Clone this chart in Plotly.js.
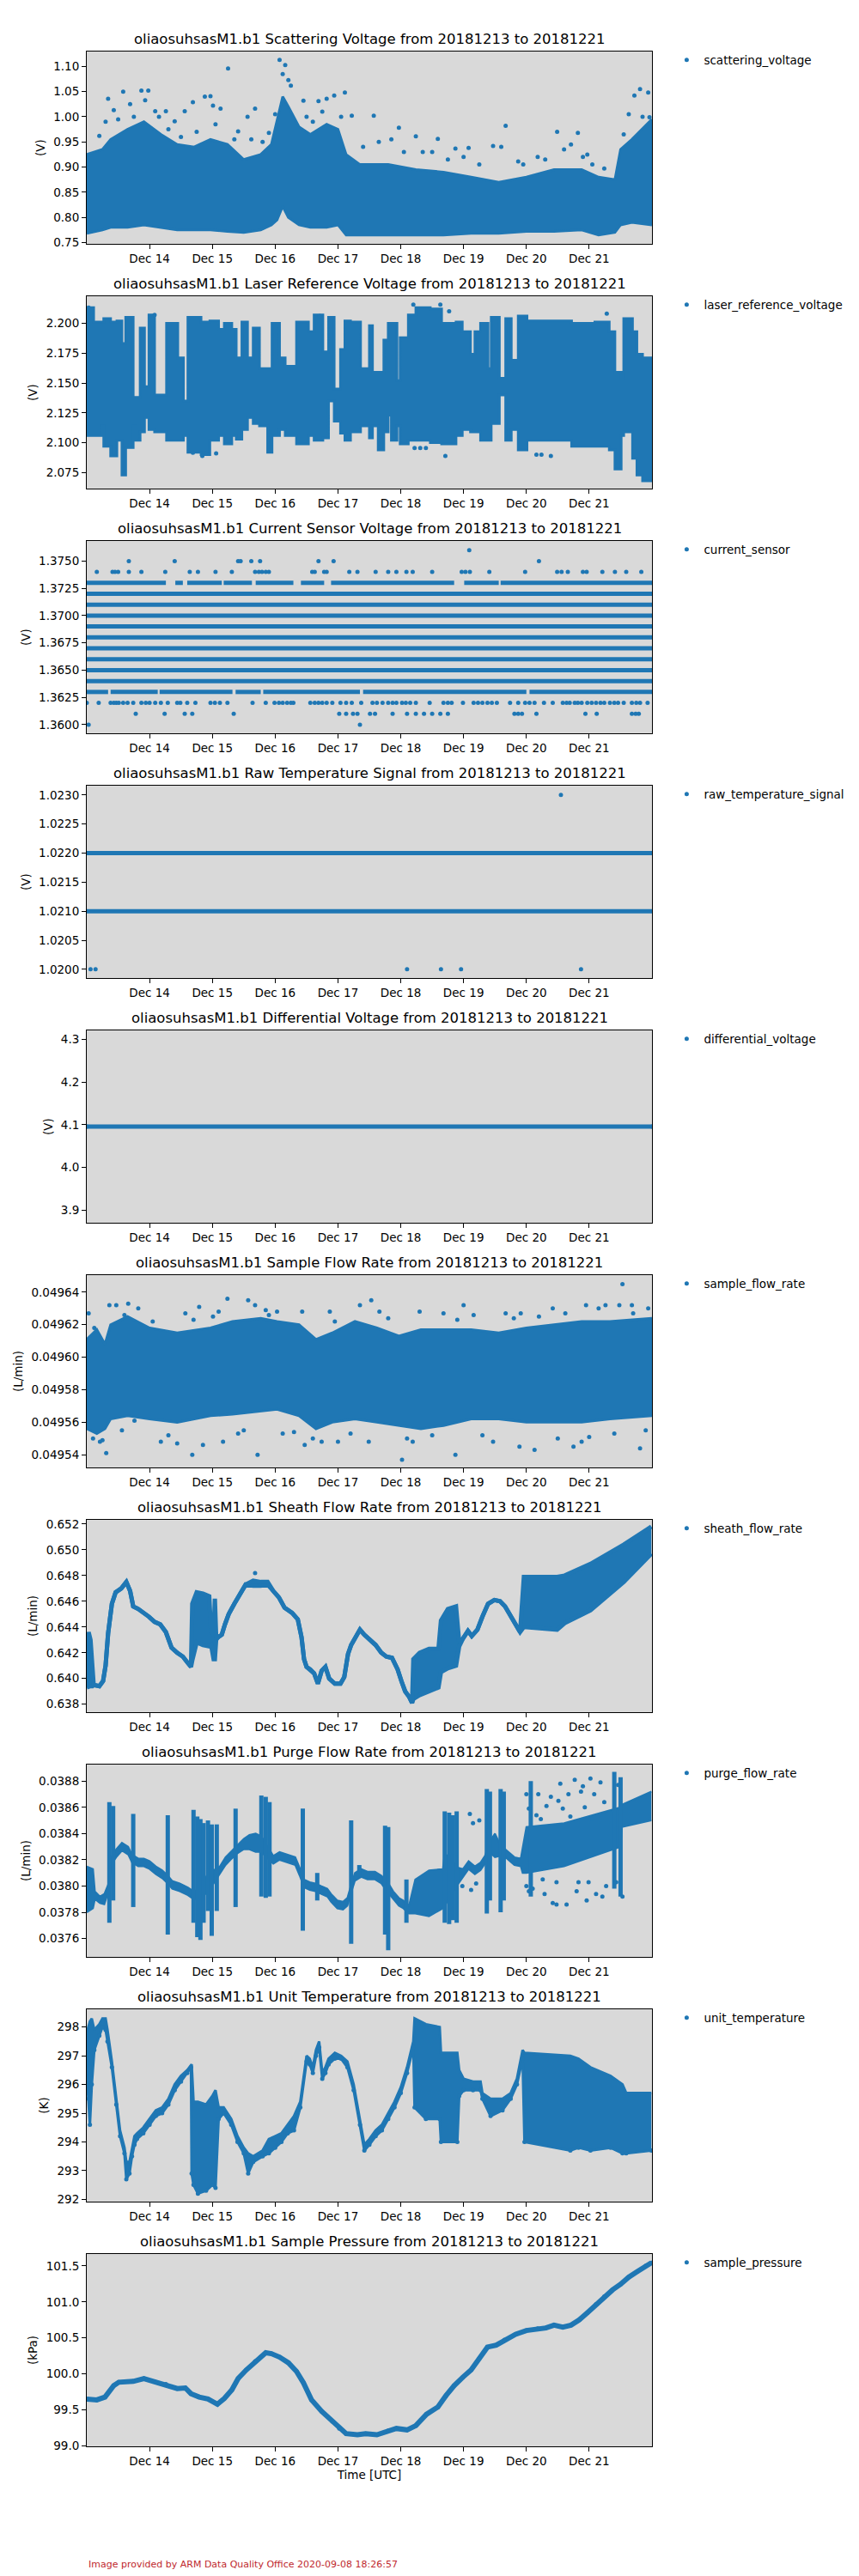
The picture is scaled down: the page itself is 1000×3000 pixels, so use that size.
<!DOCTYPE html>
<html><head><meta charset="utf-8">
<script src="https://cdn.plot.ly/plotly-3.0.1.min.js"></script>
<style>body{margin:0;background:#fff}#chart{width:1000px;height:3000px}</style>
</head><body><div id="chart"></div>
<script>
// ---------------- DATA (times are days since 2018-12-13 00:00 UTC) ----------------
const xTickDays = [1,2,3,4,5,6,7,8];
const xTickText = ['Dec 14','Dec 15','Dec 16','Dec 17','Dec 18','Dec 19','Dec 20','Dec 21'];

// 1 scattering_voltage : dense band envelope + scattered points
const sv_t  = [0,0.25,0.38,0.65,0.91,1.18,1.44,1.71,1.97,2.24,2.50,2.77,2.94,3.03,3.12,3.21,3.38,3.56,3.82,4.0,4.13,4.35,4.80,5.24,5.68,6.12,6.56,7.0,7.44,7.88,8.15,8.41,8.50,8.68,9.0];
const sv_lo = [0.768,0.775,0.780,0.780,0.785,0.780,0.775,0.775,0.775,0.772,0.770,0.775,0.785,0.795,0.822,0.800,0.785,0.780,0.780,0.785,0.765,0.765,0.765,0.765,0.765,0.768,0.768,0.772,0.772,0.775,0.765,0.770,0.785,0.790,0.785];
const sv_hi = [0.925,0.935,0.955,0.975,0.990,0.965,0.945,0.940,0.955,0.945,0.915,0.925,0.945,0.990,1.040,1.020,0.980,0.965,0.985,0.975,0.925,0.905,0.905,0.895,0.890,0.880,0.870,0.880,0.895,0.895,0.880,0.875,0.935,0.955,0.995];
const sv_pt_t = [0.34,0.43,0.58,0.69,0.87,0.98,0.93,1.09,1.26,1.40,1.56,1.69,1.88,1.97,2.01,2.13,2.25,2.41,2.56,2.68,2.90,3.00,3.07,3.12,3.16,3.21,3.25,3.45,3.69,3.82,3.94,4.11,4.22,4.57,4.97,5.24,5.59,5.87,6.08,6.47,6.67,6.87,7.18,7.49,7.71,7.82,7.97,8.24,8.63,8.72,8.81,8.94,8.96,
  0.20,0.30,0.50,0.75,1.15,1.30,1.50,1.75,2.05,2.35,2.62,2.80,3.50,3.60,3.75,4.05,4.40,4.65,4.85,5.05,5.35,5.50,5.75,6.0,6.25,6.60,6.95,7.30,7.60,7.90,8.05,8.55,8.85];
const sv_pt_v = [1.036,1.013,1.050,1.025,1.052,1.052,1.033,1.011,1.011,0.991,1.011,1.029,1.040,1.041,1.022,1.016,1.096,0.971,1.000,1.016,0.968,1.005,1.113,1.085,1.103,1.073,1.062,1.032,1.031,1.036,1.042,1.048,1.002,1.002,0.978,0.961,0.956,0.937,0.938,0.942,0.982,0.911,0.920,0.970,0.945,0.968,0.925,0.897,1.005,1.042,1.055,1.048,0.999,
  0.962,0.990,0.995,1.000,1.000,0.975,0.960,0.970,0.985,0.955,0.955,0.950,1.000,0.990,1.010,1.000,0.940,0.950,0.955,0.930,0.930,0.930,0.915,0.920,0.905,0.940,0.905,0.915,0.935,0.920,0.905,0.965,1.000];

// 2 laser_reference_voltage : stepwise envelope (segment starts) + scattered points
const lr_t  = [0,0.11,0.23,0.27,0.38,0.48,0.56,0.62,0.74,0.78,0.85,0.92,0.99,1.08,1.27,1.45,1.54,1.61,1.82,1.96,2.10,2.19,2.31,2.38,2.47,2.56,2.65,2.75,2.88,2.95,3.07,3.16,3.34,3.53,3.62,3.76,3.85,3.94,4.04,4.11,4.20,4.36,4.50,4.55,4.64,4.73,4.80,4.85,4.94,4.99,5.12,5.24,5.47,5.65,5.88,5.98,6.11,6.18,6.27,6.39,6.44,6.57,6.67,6.76,6.87,7.01,7.72,8.09,8.32,8.41,8.51,8.55,8.69,8.76,8.85,9.0];
const lr_hi = [2.213,2.201,2.201,2.204,2.201,2.202,2.183,2.205,2.138,2.138,2.196,2.147,2.207,2.140,2.200,2.171,2.135,2.205,2.201,2.202,2.195,2.200,2.195,2.171,2.201,2.171,2.196,2.162,2.162,2.200,2.171,2.164,2.201,2.193,2.207,2.176,2.205,2.145,2.178,2.202,2.201,2.162,2.198,2.159,2.159,2.186,2.200,2.200,2.152,2.188,2.207,2.213,2.212,2.200,2.201,2.193,2.174,2.193,2.200,2.162,2.205,2.154,2.204,2.169,2.206,2.202,2.200,2.201,2.193,2.159,2.154,2.204,2.193,2.174,2.171,2.171];
const lr_lo = [2.106,2.106,2.114,2.097,2.089,2.102,2.073,2.096,2.114,2.102,2.109,2.121,2.111,2.109,2.102,2.102,2.106,2.092,2.090,2.102,2.106,2.099,2.106,2.103,2.111,2.121,2.116,2.114,2.092,2.106,2.111,2.106,2.099,2.106,2.102,2.104,2.135,2.118,2.108,2.102,2.109,2.114,2.104,2.114,2.094,2.109,2.123,2.102,2.114,2.099,2.102,2.102,2.100,2.099,2.106,2.111,2.109,2.109,2.102,2.102,2.116,2.140,2.102,2.111,2.094,2.102,2.097,2.097,2.094,2.078,2.106,2.109,2.087,2.073,2.068,2.068];
const lr_pt_t = [0.03,1.08,3.71,5.20,5.63,5.77,8.28,1.69,1.84,1.90,2.06,5.22,5.31,5.40,5.71,7.16,7.24,7.39];
const lr_pt_v = [2.213,2.207,2.206,2.2156,2.2156,2.210,2.208,2.0916,2.089,2.091,2.091,2.0956,2.0956,2.0956,2.089,2.090,2.090,2.089];

// 3 current_sensor : quantised levels
const cs_full_levels = [1.364,1.365,1.366,1.367,1.368,1.369,1.370,1.371,1.372];
const cs_full_span = [[0,9]];
const cs_1373_span = [[0,1.26],[1.41,1.53],[1.60,2.15],[2.18,2.63],[2.69,3.29],[3.41,3.78],[3.89,5.85],[6.01,6.56],[6.59,9.0]];
const cs_1363_span = [[0,0.34],[0.38,1.13],[1.16,2.32],[2.37,2.77],[2.81,4.35],[4.40,7.00],[7.05,9.0]];
const cs_1362_t = [0.0,0.19,0.38,0.43,0.47,0.51,0.58,0.65,0.74,0.87,0.94,1.0,1.09,1.18,1.29,1.44,1.49,1.60,1.73,1.97,2.04,2.12,2.24,2.64,2.85,2.99,3.06,3.12,3.19,3.25,3.29,3.56,3.63,3.69,3.75,3.82,3.91,4.04,4.13,4.22,4.37,4.55,4.62,4.71,4.80,4.87,4.93,5.02,5.08,5.15,5.24,5.46,5.68,5.75,5.81,5.99,6.16,6.23,6.30,6.38,6.45,6.53,6.74,6.87,6.98,7.05,7.13,7.28,7.42,7.58,7.64,7.69,7.77,7.82,7.88,7.97,8.04,8.11,8.18,8.24,8.33,8.40,8.46,8.55,8.68,8.75,8.81,8.93];
const cs_1374_t = [0.16,0.41,0.45,0.50,0.67,0.87,1.25,1.64,1.77,2.05,2.31,2.68,2.74,2.79,2.85,2.90,3.59,3.63,3.78,3.82,4.18,4.31,4.60,4.80,4.93,5.09,5.19,5.50,5.97,6.03,6.10,6.41,6.98,7.49,7.56,7.66,7.90,7.96,8.21,8.41,8.59,8.83];
const cs_1375_t = [0.67,1.40,2.41,2.45,2.62,2.76,3.69,3.93,7.20];
const cs_1376_t = [6.09];
const cs_1361_t = [0.78,1.24,1.56,1.68,2.34,4.02,4.13,4.24,4.31,4.51,4.59,4.87,5.10,5.24,5.37,5.50,5.63,5.75,6.81,6.87,6.93,7.16,7.94,8.12,8.68,8.74,8.79];
const cs_1360_t = [0.03,4.35];

// 4 raw_temperature_signal
const rt_levels = [1.021,1.022];
const rt_pt_t = [0.06,0.14,5.10,5.64,5.96,7.87,7.55];
const rt_pt_v = [1.0200,1.0200,1.0200,1.0200,1.0200,1.0200,1.0230];

// 5 differential_voltage
const dv_t = [0,9];
const dv_v = [4.096,4.096];

// 6 sample_flow_rate
const sf_t  = [0,0.16,0.29,0.38,0.65,1.0,1.44,1.97,2.32,2.77,3.03,3.38,3.65,3.91,4.27,4.62,4.97,5.32,5.68,6.12,6.56,7.0,7.44,7.88,8.33,9.0];
const sf_hi = [0.049611,0.049617,0.049608,0.049620,0.049625,0.049618,0.049615,0.049618,0.049622,0.049624,0.049622,0.049620,0.049611,0.049615,0.049622,0.049618,0.049613,0.049617,0.049617,0.049617,0.049615,0.049618,0.049620,0.049622,0.049622,0.049624];
const sf_lo = [0.049556,0.049553,0.049556,0.049562,0.049564,0.049562,0.049560,0.049564,0.049565,0.049567,0.049568,0.049564,0.049556,0.049560,0.049562,0.049560,0.049558,0.049556,0.049558,0.049562,0.049562,0.049560,0.049560,0.049560,0.049562,0.049564];
const sf_pt_t = [0.03,0.12,0.21,0.31,0.36,0.47,0.56,0.66,0.76,0.82,1.18,1.44,1.57,1.68,1.79,1.85,2.01,2.17,2.24,2.41,2.57,2.68,2.72,2.85,3.03,3.12,3.43,3.47,3.74,3.87,4.00,4.35,4.53,4.66,4.49,5.02,5.19,5.30,5.68,5.87,6.00,6.16,6.47,6.67,6.89,6.91,7.13,7.42,7.62,7.75,7.88,7.95,8.15,8.26,8.48,8.53,8.68,8.81,8.94,
  0.10,0.25,0.60,1.05,1.30,1.70,2.10,2.50,2.90,3.30,3.60,3.95,4.20,4.80,5.10,5.50,5.90,6.30,6.80,7.20,7.50,8.00,8.40,8.70,8.90];
const sf_pt_v = [0.049627,0.049618,0.049548,0.049541,0.049632,0.049632,0.049555,0.049633,0.049561,0.049630,0.049548,0.049547,0.049627,0.049540,0.049631,0.049546,0.049625,0.049548,0.049636,0.049553,0.049635,0.049632,0.049540,0.049629,0.049628,0.049553,0.049628,0.049546,0.049548,0.049628,0.049548,0.049632,0.049635,0.049628,0.049548,0.049537,0.049548,0.049628,0.049627,0.049540,0.049632,0.049626,0.049548,0.049627,0.049545,0.049627,0.049543,0.049630,0.049627,0.049545,0.049548,0.049632,0.049630,0.049632,0.049632,0.049645,0.049632,0.049544,0.049630,
  0.049550,0.049549,0.049626,0.049622,0.049552,0.049623,0.049628,0.049555,0.049626,0.049554,0.049550,0.049622,0.049553,0.049624,0.049550,0.049552,0.049623,0.049552,0.049624,0.049625,0.049550,0.049551,0.049553,0.049627,0.049555];

// 7 sheath_flow_rate
const sh_t  = [0,0.03,0.06,0.09,0.11,0.20,0.26,0.30,0.34,0.40,0.46,0.55,0.63,0.69,0.74,0.82,0.91,0.99,1.08,1.17,1.26,1.35,1.44,1.53,1.61,1.66,1.68,1.75,1.85,1.95,1.98,2.02,2.04,2.06,2.09,2.15,2.20,2.26,2.35,2.44,2.53,2.65,2.77,2.88,2.97,3.06,3.15,3.27,3.36,3.42,3.46,3.50,3.56,3.62,3.68,3.74,3.80,3.86,3.95,4.04,4.10,4.16,4.21,4.27,4.35,4.42,4.51,4.60,4.69,4.77,4.86,4.95,5.01,5.07,5.13,5.18,5.20,5.30,5.45,5.60,5.64,5.75,5.88,5.93,5.99,6.07,6.13,6.22,6.30,6.39,6.49,6.58,6.66,6.75,6.84,6.90,6.96,7.49,7.61,8.02,8.55,8.99];
const sh_lo = [0.6393,0.6394,0.6394,0.6394,0.6395,0.6394,0.6398,0.6410,0.6435,0.6458,0.6467,0.6470,0.6475,0.6468,0.6456,0.6454,0.6451,0.6448,0.6444,0.6442,0.6436,0.6424,0.6420,0.6417,0.6412,0.6409,0.6414,0.6428,0.6426,0.6425,0.6426,0.6415,0.6415,0.6430,0.6432,0.6434,0.6442,0.6450,0.6458,0.6466,0.6473,0.6472,0.6472,0.6473,0.6468,0.6463,0.6455,0.6451,0.6446,0.6432,0.6415,0.6409,0.6407,0.6404,0.6396,0.6406,0.6409,0.6400,0.6396,0.6396,0.6401,0.6419,0.6426,0.6431,0.6438,0.6434,0.6430,0.6426,0.6420,0.6417,0.6416,0.6407,0.6398,0.6390,0.6386,0.6381,0.6384,0.6387,0.6390,0.6393,0.6405,0.6408,0.6410,0.6425,0.6431,0.6437,0.6433,0.6438,0.6448,0.6458,0.6461,0.6460,0.6456,0.6449,0.6442,0.6436,0.6440,0.6438,0.6443,0.6453,0.6475,0.6497];
const sh_hi = [0.6426,0.6436,0.6430,0.6402,0.6395,0.6394,0.6398,0.6410,0.6435,0.6458,0.6467,0.6470,0.6475,0.6468,0.6456,0.6454,0.6451,0.6448,0.6444,0.6442,0.6436,0.6424,0.6420,0.6417,0.6412,0.6409,0.6458,0.6467,0.6466,0.6464,0.6436,0.6434,0.6462,0.6433,0.6432,0.6434,0.6442,0.6450,0.6458,0.6466,0.6473,0.6476,0.6475,0.6475,0.6468,0.6463,0.6455,0.6451,0.6446,0.6432,0.6415,0.6409,0.6407,0.6404,0.6396,0.6406,0.6409,0.6400,0.6396,0.6396,0.6401,0.6419,0.6426,0.6431,0.6438,0.6434,0.6430,0.6426,0.6420,0.6417,0.6416,0.6407,0.6398,0.6390,0.6386,0.6381,0.6415,0.6420,0.6423,0.6423,0.6445,0.6454,0.6456,0.6428,0.6431,0.6437,0.6433,0.6438,0.6448,0.6458,0.6461,0.6460,0.6456,0.6449,0.6442,0.6436,0.6479,0.6479,0.6480,0.6489,0.6504,0.6518];
const sh_pt_t = [2.68];
const sh_pt_v = [0.6482];

// 8 purge_flow_rate
const pf_t  = [0,0.10,0.13,0.21,0.28,0.34,0.40,0.47,0.56,0.66,0.72,0.82,0.91,1.00,1.10,1.20,1.29,1.36,1.48,1.61,1.70,1.80,1.86,1.96,2.02,2.12,2.21,2.31,2.40,2.50,2.59,2.69,2.78,2.88,2.97,3.07,3.20,3.32,3.39,3.46,3.55,3.64,3.73,3.83,3.89,3.99,4.08,4.15,4.21,4.27,4.37,4.47,4.59,4.69,4.78,4.88,4.97,5.04,5.13,5.23,5.45,5.67,5.70,5.92,5.99,6.08,6.18,6.27,6.34,6.43,6.50,6.59,6.69,6.81,6.91,6.94,7.00,7.60,8.50,8.52,8.99];
const pf_lo = [0.03780,0.03783,0.03790,0.03787,0.03786,0.03795,0.03817,0.03822,0.03827,0.03824,0.03818,0.03815,0.03815,0.03813,0.03809,0.03806,0.03802,0.03798,0.03796,0.03793,0.03790,0.03790,0.03793,0.03796,0.03802,0.03809,0.03816,0.03821,0.03825,0.03828,0.03828,0.03826,0.03826,0.03821,0.03817,0.03820,0.03818,0.03816,0.03808,0.03799,0.03797,0.03796,0.03794,0.03792,0.03788,0.03783,0.03782,0.03785,0.03795,0.03804,0.03807,0.03805,0.03805,0.03802,0.03796,0.03790,0.03785,0.03783,0.03779,0.03779,0.03777,0.03783,0.03785,0.03802,0.03807,0.03813,0.03809,0.03812,0.03817,0.03825,0.03822,0.03823,0.03821,0.03816,0.03815,0.03810,0.03810,0.03815,0.03830,0.03845,0.03850];
const pf_hi = [0.03815,0.03813,0.03796,0.03792,0.03794,0.03801,0.03823,0.03828,0.03833,0.03830,0.03824,0.03821,0.03821,0.03819,0.03815,0.03812,0.03808,0.03804,0.03802,0.03799,0.03796,0.03798,0.03803,0.03813,0.03812,0.03815,0.03822,0.03827,0.03831,0.03836,0.03839,0.03840,0.03838,0.03830,0.03823,0.03826,0.03824,0.03822,0.03814,0.03805,0.03803,0.03802,0.03800,0.03798,0.03794,0.03789,0.03788,0.03791,0.03801,0.03810,0.03813,0.03811,0.03811,0.03808,0.03804,0.03796,0.03791,0.03789,0.03785,0.03805,0.03812,0.03813,0.03825,0.03814,0.03813,0.03819,0.03815,0.03818,0.03823,0.03835,0.03840,0.03831,0.03827,0.03822,0.03821,0.03830,0.03845,0.03848,0.03860,0.03862,0.03872];
const pf_sp_t  = [0.36,0.42,0.74,1.29,1.70,1.76,1.81,1.86,1.93,1.99,2.07,2.37,2.78,2.85,2.91,3.44,3.67,4.21,4.34,4.75,4.80,5.09,5.70,5.77,5.83,5.89,6.37,6.42,6.59,6.64,7.07,8.40,8.50];
const pf_sp_lo = [0.03772,0.03789,0.03784,0.03763,0.03772,0.03761,0.03759,0.03772,0.03781,0.03762,0.03781,0.03784,0.03792,0.03791,0.03792,0.03766,0.03789,0.03756,0.03807,0.03763,0.03751,0.03772,0.03772,0.03771,0.03774,0.03772,0.03779,0.03789,0.03780,0.03789,0.03792,0.03798,0.03792];
const pf_sp_hi = [0.03864,0.03861,0.03855,0.03854,0.03858,0.03853,0.03851,0.03848,0.03850,0.03847,0.03847,0.03859,0.03869,0.03868,0.03864,0.03859,0.03810,0.03850,0.03816,0.03846,0.03845,0.03805,0.03857,0.03856,0.03854,0.03857,0.03874,0.03872,0.03874,0.03872,0.03880,0.03887,0.03883];
const pf_pt_t = [7.00,7.04,7.00,7.04,7.10,7.19,7.23,7.29,7.39,7.42,7.48,7.54,7.58,7.64,7.67,7.77,7.80,7.87,7.93,7.96,8.02,8.08,8.11,8.18,8.21,8.24,8.27,7.70,7.83,7.99,7.48,7.26,7.51,7.90,8.05,7.32,7.16,8.43,8.46,8.53,6.10,6.15,6.12,6.20,5.98,6.25];
const pf_pt_v = [0.03870,0.03859,0.03800,0.03796,0.03798,0.03870,0.03851,0.03794,0.03868,0.03787,0.03786,0.03878,0.03859,0.03786,0.03870,0.03881,0.03796,0.03872,0.03860,0.03789,0.03882,0.03870,0.03794,0.03879,0.03792,0.03864,0.03800,0.03853,0.03803,0.03803,0.03803,0.03805,0.03865,0.03876,0.03851,0.03861,0.03854,0.03803,0.03877,0.03792,0.03855,0.03848,0.03797,0.03802,0.03800,0.03850];

// 9 unit_temperature
const ut_t  = [0,0.03,0.05,0.08,0.12,0.20,0.25,0.30,0.33,0.40,0.47,0.53,0.60,0.63,0.68,0.72,0.76,0.80,0.90,1.00,1.10,1.20,1.30,1.40,1.50,1.60,1.66,1.67,1.70,1.77,1.90,2.00,2.05,2.10,2.18,2.30,2.40,2.50,2.57,2.65,2.80,2.90,3.00,3.10,3.20,3.30,3.40,3.50,3.55,3.60,3.65,3.70,3.75,3.80,3.85,3.95,4.05,4.15,4.25,4.35,4.42,4.50,4.60,4.70,4.80,4.90,5.00,5.10,5.20,5.22,5.40,5.62,5.64,5.90,5.93,6.00,6.15,6.27,6.30,6.43,6.62,6.75,6.85,6.94,6.97,7.70,7.83,8.02,8.34,8.53,8.59,8.99];
const ut_lo = [296.4,295.5,294.6,296.0,297.2,297.7,298.0,297.9,297.5,296.6,295.3,294.2,293.6,292.7,292.9,293.5,293.9,294.1,294.3,294.6,294.9,295.0,295.3,295.8,296.1,296.4,296.6,292.9,292.5,292.2,292.3,292.5,292.4,294.8,295.0,294.6,294.0,293.6,292.9,293.3,293.5,293.6,293.8,294.0,294.3,294.4,295.2,296.8,296.7,296.4,297.0,297.3,296.2,296.4,296.7,296.9,296.9,296.6,295.8,294.6,293.7,293.9,294.2,294.4,294.8,295.2,295.7,296.4,297.3,295.2,294.8,294.8,294.0,294.0,295.6,295.8,295.8,295.8,295.5,294.9,295.1,295.5,296.0,296.9,294.0,293.7,293.8,293.7,293.8,293.6,293.6,293.7];
const ut_hi = [297.8,298.1,298.2,298.3,297.9,298.1,298.3,298.3,297.9,296.8,295.5,294.4,293.8,293.3,293.3,293.8,294.2,294.3,294.5,294.8,295.1,295.2,295.5,296.0,296.3,296.5,296.7,296.7,295.4,295.4,295.3,295.6,295.8,295.2,295.2,294.8,294.2,293.8,293.6,293.5,293.7,294.1,294.2,294.3,294.6,294.9,295.4,297.0,296.9,296.6,297.2,297.5,296.4,296.6,296.9,297.1,297.0,296.8,296.0,294.8,293.9,294.1,294.4,294.6,295.0,295.4,295.9,296.6,297.5,298.3,298.1,298.0,297.1,297.1,296.5,296.2,296.1,296.1,295.7,295.5,295.5,295.7,296.2,297.2,297.1,297.0,296.9,296.6,296.3,296.0,295.7,295.7];

// 10 sample_pressure
const pr_t = [0,0.16,0.29,0.43,0.51,0.74,0.91,1.09,1.26,1.44,1.57,1.66,1.79,1.93,2.08,2.19,2.31,2.41,2.54,2.68,2.77,2.85,2.94,3.07,3.21,3.34,3.45,3.58,3.74,3.91,4.02,4.13,4.31,4.44,4.62,4.80,4.93,5.10,5.24,5.41,5.59,5.72,5.85,5.99,6.12,6.25,6.38,6.52,6.65,6.83,7.00,7.18,7.31,7.44,7.58,7.71,7.84,7.97,8.11,8.24,8.37,8.50,8.63,8.77,8.90,8.99];
const pr_v = [99.648,99.636,99.676,99.835,99.882,99.894,99.934,99.886,99.855,99.795,99.803,99.723,99.676,99.648,99.576,99.656,99.775,99.934,100.053,100.172,100.232,100.292,100.280,100.232,100.153,100.033,99.874,99.636,99.477,99.338,99.239,99.167,99.151,99.167,99.151,99.207,99.239,99.219,99.278,99.437,99.537,99.696,99.835,99.954,100.053,100.212,100.371,100.399,100.471,100.550,100.602,100.630,100.638,100.677,100.650,100.677,100.749,100.848,100.967,101.075,101.166,101.246,101.345,101.424,101.504,101.544];

// ---------------- PANEL SETTINGS ----------------
const panels = [
  {name:'Scattering Voltage', unit:'(V)', range:[0.7473,1.1297], dtick:0.05, tick0:0.75, fmt:'.2f'},
  {name:'Laser Reference Voltage', unit:'(V)', range:[2.0616,2.2226], dtick:0.025, tick0:2.075, fmt:'.3f'},
  {name:'Current Sensor Voltage', unit:'(V)', range:[1.35921,1.37684], dtick:0.0025, tick0:1.36, fmt:'.4f'},
  {name:'Raw Temperature Signal', unit:'(V)', range:[1.01985,1.02316], dtick:0.0005, tick0:1.02, fmt:'.4f'},
  {name:'Differential Voltage', unit:'(V)', range:[3.871,4.3205], dtick:0.1, tick0:3.9, fmt:'.1f'},
  {name:'Sample Flow Rate', unit:'(L/min)', range:[0.0495322,0.0496505], dtick:0.00002, tick0:0.04954, fmt:'.5f'},
  {name:'Sheath Flow Rate', unit:'(L/min)', range:[0.63738,0.65233], dtick:0.002, tick0:0.638, fmt:'.3f'},
  {name:'Purge Flow Rate', unit:'(L/min)', range:[0.03746,0.038926], dtick:0.0002, tick0:0.0376, fmt:'.4f'},
  {name:'Unit Temperature', unit:'(K)', range:[291.92,298.62], dtick:1, tick0:292, fmt:'d'},
  {name:'Sample Pressure', unit:'(kPa)', range:[98.99,101.667], dtick:0.5, tick0:99, fmt:'.1f'}
];
const varNames = ['scattering_voltage','laser_reference_voltage','current_sensor','raw_temperature_signal','differential_voltage','sample_flow_rate','sheath_flow_rate','purge_flow_rate','unit_temperature','sample_pressure'];

// ---------------- BUILD ----------------
const BASE = Date.UTC(2018, 11, 13);
function toDate(d){ return d === null ? null : new Date(BASE + d*86400000).toISOString().slice(0,19).replace('T',' '); }
const D = a => a.map(toDate);
const BLUE = '#1f77b4';
const traces = [];
function ax(i){ return {xaxis:'x'+(i+1), yaxis:'y'+(i+1), legend: i ? 'legend'+(i+1) : 'legend', hoverinfo:'skip'}; }
function band(i, t, lo, hi, w, shape){
  const ln = {color:BLUE, width:w, shape:shape||'linear'};
  traces.push(Object.assign({type:'scatter', mode:'lines', x:D(t), y:lo, line:ln, showlegend:false}, ax(i)));
  traces.push(Object.assign({type:'scatter', mode:'lines', x:D(t), y:hi, line:ln, fill:'tonexty', fillcolor:BLUE, showlegend:false}, ax(i)));
}
function line(i, t, v, w){
  traces.push(Object.assign({type:'scatter', mode:'lines', x:D(t), y:v, line:{color:BLUE, width:w}, showlegend:false}, ax(i)));
}
function dots(i, t, v, legendName, size){
  traces.push(Object.assign({type:'scatter', mode:'markers', x:D(t), y:v, name:legendName||'', showlegend:!!legendName,
    marker:{color:BLUE, size:size||5}}, ax(i)));
}
function hlines(i, spans, levels, w){
  const x=[], y=[];
  levels.forEach(lv => spans.forEach(s => { x.push(toDate(s[0]), toDate(s[1]), null); y.push(lv, lv, null); }));
  traces.push(Object.assign({type:'scatter', mode:'lines', x:x, y:y, line:{color:BLUE, width:w}, showlegend:false, connectgaps:false}, ax(i)));
}
function vlines(i, t, lo, hi, w){
  const x=[], y=[];
  t.forEach((d,k) => { x.push(toDate(d), toDate(d), null); y.push(lo[k], hi[k], null); });
  traces.push(Object.assign({type:'scatter', mode:'lines', x:x, y:y, line:{color:BLUE, width:w}, showlegend:false, connectgaps:false}, ax(i)));
}
const fill = (n, v) => Array.from({length:n}, () => v);

// panel 1
band(0, sv_t, sv_lo, sv_hi, 3);
dots(0, sv_pt_t, sv_pt_v, varNames[0]);
// panel 2
band(1, lr_t, lr_lo, lr_hi, 3, 'hv');
dots(1, lr_pt_t, lr_pt_v, varNames[1]);
// panel 3
hlines(2, cs_full_span, cs_full_levels, 5);
hlines(2, cs_1373_span, [1.373], 5);
hlines(2, cs_1363_span, [1.363], 5);
dots(2, cs_1362_t, fill(cs_1362_t.length, 1.362), varNames[2]);
dots(2, cs_1374_t, fill(cs_1374_t.length, 1.374));
dots(2, cs_1375_t, fill(cs_1375_t.length, 1.375));
dots(2, cs_1376_t, fill(cs_1376_t.length, 1.376));
dots(2, cs_1361_t, fill(cs_1361_t.length, 1.361));
dots(2, cs_1360_t, fill(cs_1360_t.length, 1.360));
// panel 4
hlines(3, [[0,9]], rt_levels, 5);
dots(3, rt_pt_t, rt_pt_v, varNames[3]);
// panel 5
line(4, dv_t, dv_v, 5);
dots(4, dv_t, dv_v, varNames[4]);
// panel 6
band(5, sf_t, sf_lo, sf_hi, 3);
dots(5, sf_pt_t, sf_pt_v, varNames[5]);
// panel 7
band(6, sh_t, sh_lo, sh_hi, 5);
dots(6, sh_pt_t, sh_pt_v, varNames[6]);
// panel 8
band(7, pf_t, pf_lo, pf_hi, 2);
vlines(7, pf_sp_t, pf_sp_lo, pf_sp_hi, 5);
dots(7, pf_pt_t, pf_pt_v, varNames[7]);
// panel 9
band(8, ut_t, ut_lo, ut_hi, 3);
dots(8, ut_t, ut_lo, varNames[8]);
// panel 10
line(9, pr_t, pr_v, 6);
dots(9, pr_t, pr_v, varNames[9]);

const W=1000, H=3000, ML=101, MR=241, MT=60, MB=151;
const PH = H-MT-MB;
function dom(i){ const top=60+285*i, bot=284+285*i; return [(H-MB-bot)/PH, (H-MB-top)/PH]; }

const layout = {
  width:W, height:H, margin:{l:ML, r:MR, t:MT, b:MB, pad:0},
  paper_bgcolor:'white', plot_bgcolor:'#d9d9d9',
  font:{family:'DejaVu Sans', size:13.5, color:'black'},
  hovermode:false, showlegend:true, annotations:[]
};
panels.forEach((p,i) => {
  const k = i ? i+1 : '';
  const d = dom(i);
  layout['xaxis'+k] = {type:'date', domain:[0,1], anchor:'y'+(i+1), range:[toDate(0), toDate(9)],
    tickvals:D(xTickDays), ticktext:xTickText, ticks:'outside', ticklen:5, tickwidth:1, tickcolor:'black',
    showline:true, mirror:true, linecolor:'black', linewidth:1, showgrid:false, zeroline:false,
    tickfont:{size:13.5}, fixedrange:true};
  layout['yaxis'+k] = {domain:d, anchor:'x'+(i+1), range:p.range, tick0:p.tick0, dtick:p.dtick, tickformat:p.fmt,
    ticks:'outside', ticklen:5, tickwidth:1, tickcolor:'black', showline:true, mirror:true, linecolor:'black', linewidth:1,
    showgrid:false, zeroline:false, tickfont:{size:13.5}, fixedrange:true,
    title:{text:p.unit, font:{size:13.5}, standoff:6}};
  layout['legend'+k] = {x:1.031, xanchor:'left', y:d[1]+0.002, yanchor:'top', bgcolor:'rgba(0,0,0,0)', borderwidth:0,
    font:{size:13.5}, itemclick:false, itemdoubleclick:false};
  layout.annotations.push({xref:'paper', yref:'paper', x:0.5, y:d[1], yanchor:'bottom', xanchor:'center', yshift:3,
    showarrow:false, text:'oliaosuhsasM1.b1 '+p.name+' from 20181213 to 20181221', font:{size:16.5}});
});
layout.xaxis10.title = {text:'Time [UTC]', font:{size:13.5}, standoff:4};
layout.annotations.push({xref:'paper', yref:'paper', x:0, xanchor:'left', y:(H-MB-2986)/PH, yanchor:'middle',
  showarrow:false, text:'Image provided by ARM Data Quality Office 2020-09-08 18:26:57', font:{size:11, color:'#c0282d'}});

Plotly.newPlot('chart', traces, layout, {staticPlot:true, displayModeBar:false});
</script></body></html>
